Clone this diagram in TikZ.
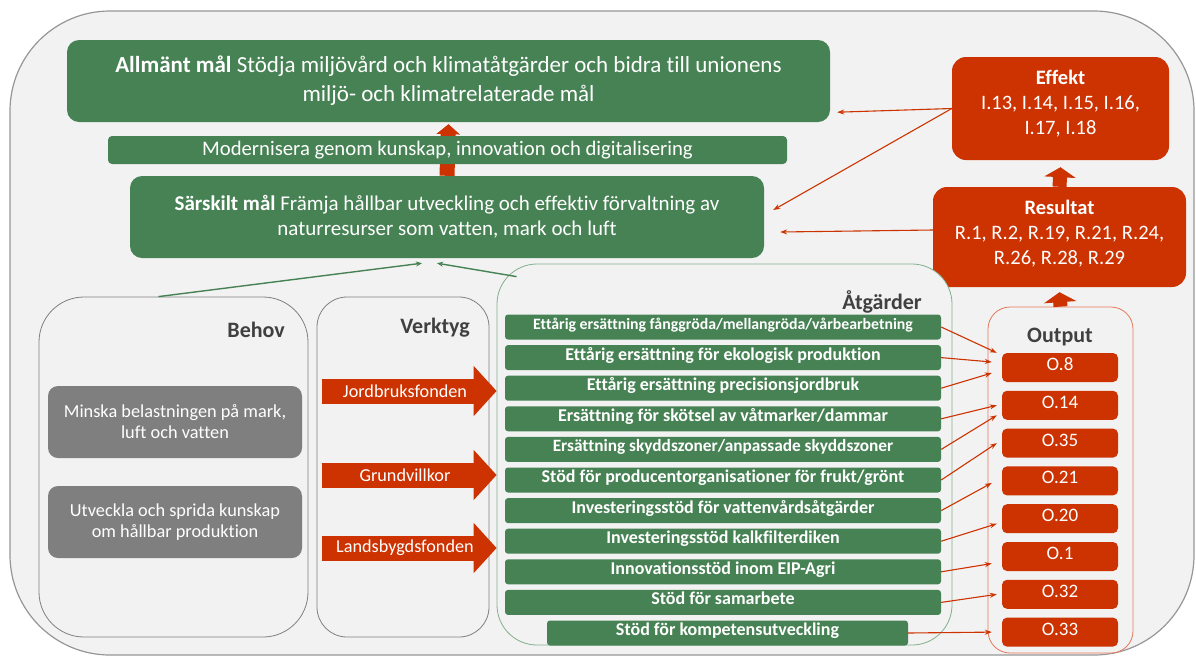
\documentclass[tikz,border=0pt]{standalone}
\usepackage{fontspec}
\setmainfont{Carlito}[Ligatures={NoCommon}]
\usetikzlibrary{positioning,arrows.meta,calc}

\definecolor{goalgreen}{RGB}{71,130,84}
\definecolor{outred}{RGB}{204,51,0}
\definecolor{needgray}{RGB}{127,127,127}
\definecolor{labgray}{RGB}{64,64,64}
\definecolor{panel}{RGB}{242,242,242}
\definecolor{atgline}{RGB}{130,175,140}
\definecolor{outline}{RGB}{228,120,90}

\begin{document}
\begin{tikzpicture}[x=1pt, y=-1pt,
  goal/.style={fill=goalgreen, text=white, rounded corners=12pt, align=center, inner sep=0pt},
  res/.style={fill=outred, rounded corners=14pt, inner sep=0pt},
  restxt/.style={text=white, align=center, font=\fontsize{20.5}{25}\selectfont},
  grp/.style={draw=gray, fill=panel, line width=0.8pt, inner sep=0pt},
  need/.style={fill=needgray, text=white, rounded corners=10pt, minimum width=254pt, minimum height=72pt, align=center, inner sep=0pt, font=\fontsize{18.3}{21}\selectfont},
  head/.style={text=labgray, anchor=base east, inner sep=0pt, font=\fontsize{22}{24}\selectfont\bfseries},
  fund/.style={draw=outred, line width=25pt, -{Triangle[width=49pt,length=23pt]}},
  fundtxt/.style={text=white, inner sep=0pt, font=\fontsize{18.2}{20}\selectfont},
  bar/.style={fill=goalgreen, text=white, rounded corners=3pt, minimum width=436pt, minimum height=25pt, inner sep=0pt, text height=0.7em, text depth=0.2em, font=\fontsize{18}{20}\selectfont\bfseries},
  outp/.style={fill=outred, text=white, rounded corners=5pt, minimum width=116pt, minimum height=29pt, inner sep=0pt, text height=0.7em, text depth=0.1em, font=\fontsize{19}{22}\selectfont},
  link/.style={draw=outred, line width=1.1pt, -{Stealth[length=7pt,width=5pt]}},
  feed/.style={draw=goalgreen, line width=1.4pt, -{Stealth[length=6pt,width=5pt]}},
  upblock/.style={draw=outred, line width=#1},
  upblock/.default=15pt]

  \useasboundingbox (0,0) rectangle (1196,657);
  \draw[draw={rgb,255:red,150;green,150;blue,150}, fill=panel, line width=1.2pt, rounded corners=100pt] (10,11) rectangle (1194,655);

  % goals
  \node[goal, minimum width=763pt, minimum height=82pt, font=\fontsize{23}{29}\selectfont] (allm) at (448.5,81)
    {\textbf{Allmänt mål} Stödja miljövård och klimatåtgärder och bidra till unionens\\ miljö- och klimatrelaterade mål};
  \node[goal, minimum width=634pt, minimum height=82pt, font=\fontsize{21}{25}\selectfont] (sar) at (447,217)
    {\textbf{Särskilt mål} Främja hållbar utveckling och effektiv förvaltning av\\ naturresurser som vatten, mark och luft};
  \draw[upblock, -{Triangle[width=23pt,length=10pt]}] (sar.north) -- ([yshift=-2pt]allm.south);
  \node[goal, rounded corners=4pt, minimum width=679pt, minimum height=28pt, font=\fontsize{20.7}{22}\selectfont] (mod) at (447.5,150)
    {Modernisera genom kunskap, innovation och digitalisering};

  % indicators
  \node[res, minimum width=217pt, minimum height=103pt, label={[restxt, yshift=5pt]center:{\textbf{Effekt}\\ I.13, I.14, I.15, I.16,\\ I.17, I.18}}] (eff) at (1060.5,108.5) {};
  \node[res, minimum width=253pt, minimum height=100pt, label={[restxt, yshift=3pt]center:{\textbf{Resultat}\\ R.1, R.2, R.19, R.21, R.24,\\ R.26, R.28, R.29}}] (resu) at (1059.5,237) {};
  \draw[upblock=14pt, -{Triangle[width=31pt,length=10pt]}] (resu.north) -- ([yshift=-7pt]eff.south);
  \draw[link] (eff.west) -- ([xshift=7pt,yshift=10pt]allm.south east);
  \draw[link] (eff.west) -- ([xshift=9pt,yshift=7pt]sar.east);
  \draw[link] ([yshift=7pt]resu.west) -- ([xshift=16pt,yshift=-15pt]sar.east);

  % needs and tools
  \node[grp, rounded corners=45pt, minimum width=269pt, minimum height=340pt] (behov) at (173.5,467) {};
  \node[head] (behovlab) at (285,337) {Behov};
  \node[need] (need1) at (175,422) {Minska belastningen på mark,\\ luft och vatten};
  \node[need] (need2) at (175,522) {Utveckla och sprida kunskap\\ om hållbar produktion};

  \node[grp, rounded corners=30pt, minimum width=172pt, minimum height=340pt] (verk) at (403,467) {};
  \node[head] (verklab) at (470,333) {Verktyg};

  \node[grp, draw=atgline, rounded corners=40pt, minimum width=455pt, minimum height=381pt] (atg) at (724.5,454.5) {};
  \node[head] (atglab) at (922,309) {Åtgärder};

  \coordinate (jordc) at (405,391);
  \coordinate (grundc) at (405,475);
  \coordinate (landc) at (405,548);
  \draw[fund] ($(verk.west |- jordc)+(5,0)$) -- (atg.west |- jordc);
  \draw[fund] ($(verk.west |- grundc)+(5,0)$) -- (atg.west |- grundc);
  \draw[fund] ($(verk.west |- landc)+(5,0)$) -- (atg.west |- landc);
  \node[fundtxt] (jord) at (jordc) {Jordbruksfonden};
  \node[fundtxt] (grund) at (grundc) {Grundvillkor};
  \node[fundtxt] (land) at (landc) {Landsbygdsfonden};

  \draw[feed] ([xshift=-15pt]behov.north) -- ([xshift=-25pt,yshift=-5pt]sar.south);
  \draw[feed] ([xshift=20pt,yshift=-13pt]atg.north west) -- ([xshift=-10pt,yshift=-5pt]sar.south);

  % measures
  \node[bar, font=\fontsize{15.8}{18}\selectfont\bfseries] (b1) at (723,327) {Ettårig ersättning fånggröda/mellangröda/vårbearbetning};
  \node[bar, below=5.2pt of b1] (b2) {Ettårig ersättning för ekologisk produktion};
  \node[bar, below=5.2pt of b2] (b3) {Ettårig ersättning precisionsjordbruk};
  \node[bar, below=5.2pt of b3] (b4) {Ersättning för skötsel av våtmarker/dammar};
  \node[bar, font=\fontsize{17.3}{20}\selectfont\bfseries, below=5.2pt of b4] (b5) {Ersättning skyddszoner/anpassade skyddszoner};
  \node[bar, below=5.2pt of b5] (b6) {Stöd för producentorganisationer för frukt/grönt};
  \node[bar, below=5.2pt of b6] (b7) {Investeringsstöd för vattenvårdsåtgärder};
  \node[bar, below=5.2pt of b7] (b8) {Investeringsstöd kalkfilterdiken};
  \node[bar, below=5.2pt of b8] (b9) {Innovationsstöd inom EIP-Agri};
  \node[bar, below=5.2pt of b9] (b10) {Stöd för samarbete};
  \node[bar, minimum width=361pt, below=5.2pt of b10, xshift=4.5pt] (b11) {Stöd för kompetensutveckling};

  % outputs
  \node[grp, draw=outline, rounded corners=22pt, minimum width=145pt, minimum height=346pt] (outbox) at (1060.5,480) {};
  \draw[upblock=14pt, -{Triangle[width=32pt,length=10pt]}] (outbox.north) -- ([yshift=-5pt]resu.south);
  \node[head, anchor=base] (outlab) at (1060,342) {Output};
  \node[outp] (o8) at (1060,367.5) {O.8};
  \node[outp, below=8.4pt of o8] (o14) {O.14};
  \node[outp, below=8.4pt of o14] (o35) {O.35};
  \node[outp, below=8.4pt of o35] (o21) {O.21};
  \node[outp, below=8.4pt of o21] (o20) {O.20};
  \node[outp, below=8.4pt of o20] (o1) {O.1};
  \node[outp, below=8.4pt of o1] (o32) {O.32};
  \node[outp, below=8.4pt of o32] (o33) {O.33};

  \draw[link] (b1.east) -- ([xshift=-5pt]o8.north west);
  \draw[link] (b2.east) -- ([xshift=-10pt,yshift=5.5pt]o8.west);
  \draw[link] (b3.east) -- ([xshift=-10pt,yshift=-5.5pt]o8.west);
  \draw[link] (b4.east) -- ([xshift=-5pt]o14.west);
  \draw[link] (b5.east) -- ([xshift=-5pt,yshift=-10pt]o14.west);
  \draw[link] (b6.east) -- ([xshift=-5pt]o35.west);
  \draw[link] (b7.east) -- ([xshift=-10pt,yshift=-2pt]o21.west);
  \draw[link] (b8.east) -- ([xshift=-5pt,yshift=-5pt]o20.west);
  \draw[link] (b9.east) -- ([xshift=-10pt,yshift=-7pt]o1.west);
  \draw[link] (b10.east) -- ([xshift=-5pt]o32.west);
  \draw[link] (b11.east) -- ([xshift=-10pt]o33.west);
\end{tikzpicture}
\end{document}
